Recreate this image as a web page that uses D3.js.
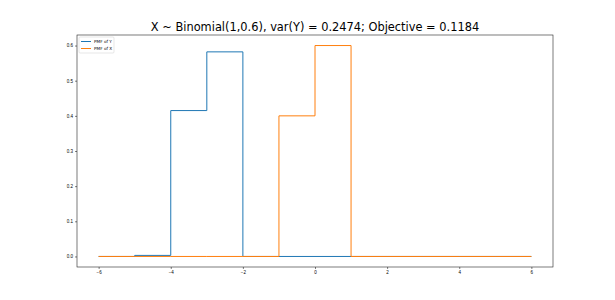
<!DOCTYPE html>
<html>
<head>
<meta charset="utf-8">
<script src="https://cdn.jsdelivr.net/npm/d3@7"></script>
<style>
  body { margin: 0; background: #fff; }
  svg { font-family: "DejaVu Sans", sans-serif; }
  .tick text { font-size: 4.5px; fill: #000; }
</style>
</head>
<body>
<svg id="chart" width="615" height="300"></svg>
<script>
// support points and step values (steps-post)
const xs = [-6, -5, -4, -3, -2, -1, 0, 1, 2, 3, 4, 5, 6];
const pmfY = [0, 0.003, 0.415, 0.582, 0, 0, 0, 0, 0, 0, 0, 0, 0];
const pmfX = [0, 0, 0, 0, 0, 0.4, 0.6, 0, 0, 0, 0, 0, 0];
const xTicks = [-6, -4, -2, 0, 2, 4, 6];
const yTicks = [0, 0.1, 0.2, 0.3, 0.4, 0.5, 0.6];
const titleText = "X ~ Binomial(1,0.6), var(Y) = 0.2474; Objective = 0.1184";

const svg = d3.select("#chart");
const mLeft = 77, mRight = 553, mTop = 35, mBottom = 267;

const x = d3.scaleLinear().domain([-6.6, 6.6]).range([mLeft, mRight]);
const y = d3.scaleLinear().domain([-0.03, 0.63]).range([mBottom, mTop]);

// frame
svg.append("rect")
  .attr("x", mLeft).attr("y", mTop)
  .attr("width", mRight - mLeft).attr("height", mBottom - mTop)
  .attr("fill", "none").attr("stroke", "#222").attr("stroke-width", 0.6);

const line = d3.line()
  .x(d => x(d[0])).y(d => y(d[1]))
  .curve(d3.curveStepAfter);

const series = [
  { name: "PMF of Y", values: pmfY, color: "#1f77b4" },
  { name: "PMF of X", values: pmfX, color: "#ff7f0e" }
];

series.forEach(s => {
  svg.append("path")
    .attr("d", line(xs.map((v, i) => [v, s.values[i]])))
    .attr("fill", "none")
    .attr("stroke", s.color)
    .attr("stroke-width", 1);
});

// axes
const xAxis = svg.append("g")
  .attr("transform", `translate(0,${mBottom})`)
  .call(d3.axisBottom(x).tickValues(xTicks).tickSize(2).tickPadding(2)
    .tickFormat(d => d < 0 ? "\u2212" + Math.abs(d) : d));
const yAxis = svg.append("g")
  .attr("transform", `translate(${mLeft},0)`)
  .call(d3.axisLeft(y).tickValues(yTicks).tickSize(2).tickPadding(2)
    .tickFormat(d3.format(".1f")));
[xAxis, yAxis].forEach(g => {
  g.select(".domain").remove();
  g.selectAll(".tick line").attr("stroke", "#000").attr("stroke-width", 0.5);
});

// title
svg.append("text")
  .attr("x", (mLeft + mRight) / 2).attr("y", 31)
  .attr("text-anchor", "middle")
  .attr("font-size", 11.4)
  .text(titleText);

// legend
const lg = svg.append("g").attr("transform", `translate(${mLeft + 2},${mTop + 2})`);
lg.append("rect")
  .attr("width", 35).attr("height", 16).attr("rx", 1)
  .attr("fill", "#fff").attr("stroke", "#ccc").attr("stroke-width", 0.5);
series.forEach((s, i) => {
  const yy = 4.5 + i * 7;
  lg.append("line")
    .attr("x1", 2).attr("x2", 12).attr("y1", yy).attr("y2", yy)
    .attr("stroke", s.color).attr("stroke-width", 1);
  lg.append("text")
    .attr("x", 15).attr("y", yy + 1.5)
    .attr("font-size", 4.2)
    .text(s.name);
});
</script>
</body>
</html>
